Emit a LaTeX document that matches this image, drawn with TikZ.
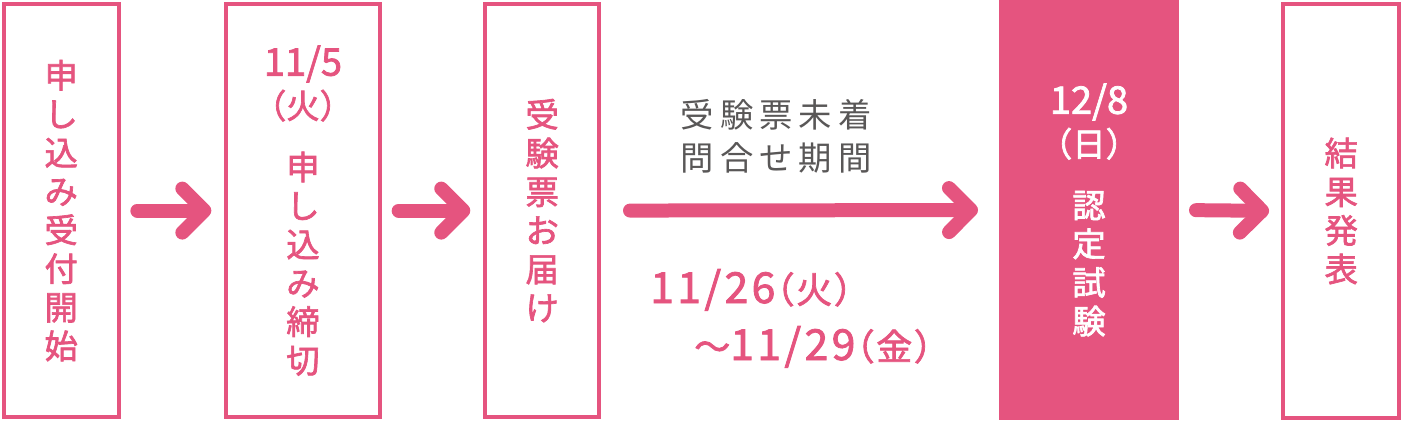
\documentclass[tikz,border=0pt]{standalone}
\usepackage{fontspec}
\usepackage{tikz}
\usetikzlibrary{arrows.meta,positioning}

\newfontfamily\jpfont{Noto Sans CJK JP}
\newfontfamily\jpmid[FakeBold=2]{Noto Sans CJK JP}
\newfontfamily\jpdate[FakeBold=2,RawFeature=+palt,LetterSpace=8]{Noto Sans CJK JP}
\newcommand\bigdigits{\fontsize{28.5pt}{29pt}\selectfont}
\newcommand\datedigits{\fontsize{32pt}{30pt}\selectfont}

\definecolor{examPink}{HTML}{E5547F}
\definecolor{noteGray}{HTML}{595757}

\tikzset{
  stagebox/.style={draw=examPink, line width=3pt, outer sep=0pt, inner sep=0pt,
    minimum width=86.25pt, minimum height=310pt, text=examPink, align=center,
    font=\jpmid\fontsize{25pt}{29pt}\selectfont},
  flowarrow/.style={draw=examPink, line width=10.5pt, line cap=round,
    -{Straight Barb[round, length=16.5pt, width=33pt]},
    shorten <=14pt, shorten >=11pt},
  datelabel/.style={anchor=base west, text=examPink, inner sep=0pt,
    font=\jpdate\fontsize{27pt}{29pt}\selectfont}
}

\begin{document}
\begin{tikzpicture}[x=0.75pt,y=-0.75pt]
  \useasboundingbox (0,0) rectangle (1401,421);

  \node[stagebox] (apply) at (61.2,210.6) {申\\し\\込\\み\\受\\付\\開\\始};
  \node[stagebox, minimum width=115.5pt] (close) at (303,210.6)
    {{\bigdigits 11/5}\\[3pt]（火）\\[17pt]申\\し\\込\\み\\締\\切};
  \node[stagebox, minimum width=85.9pt] (ticket) at (542.2,210.6) {受\\験\\票\\お\\届\\け};
  \node[stagebox, draw=none, fill=examPink, text=white, minimum width=135pt,
    minimum height=315pt] (exam) at (1089,210) 
    {{\bigdigits 12/8}\\[3pt]（日）\\[17pt]認\\定\\試\\験};
  \node[stagebox, minimum width=86.8pt] (result) at (1341.2,211) {結\\果\\発\\表};

  % arrows between stages
  \draw[flowarrow] (apply.east) -- (close.west);
  \draw[flowarrow] (close.east) -- (ticket.west);
  \draw[flowarrow, shorten <=22.9pt, shorten >=15.75pt] (ticket.east) -- (exam.west);
  \draw[flowarrow, shorten <=12.75pt, shorten >=10.7pt] (exam.east) -- (result.west);

  % inquiry period
  \node[text=noteGray, align=center, font=\jpfont\addfontfeature{LetterSpace=18}\fontsize{25pt}{32pt}\selectfont]
    (inquiry) at (776,136.5) {受験票未着\\問合せ期間};
  \node[datelabel] (dateFrom) at (650,303) {{\datedigits 11/26}（火）};
  \node[datelabel] (dateTo) at (694,360) {～{\datedigits 11/29}（金）};
\end{tikzpicture}
\end{document}
